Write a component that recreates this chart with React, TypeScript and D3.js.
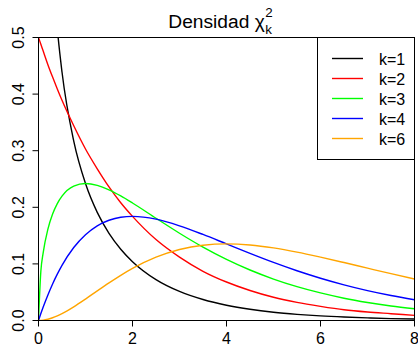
import React, {useEffect, useRef} from 'react';
import * as d3 from "d3";

const xs = [0, 0.05, 0.1, 0.2, 0.3, 0.4, 0.5, 0.75, 1, 1.25, 1.5, 1.75, 2, 2.5, 3, 3.5, 4, 4.5, 5, 5.5, 6, 6.5, 7, 7.5, 8];

const k1 = [null, null, null, null, 0.627, 0.516, 0.439, 0.317, 0.242, 0.191, 0.154, 0.126, 0.104, 0.0723, 0.0514, 0.0371, 0.027, 0.0198, 0.0146, 0.0109, 0.0081, 0.0061, 0.0046, 0.0034, 0.0026];
const k2 = [0.5, 0.488, 0.476, 0.452, 0.43, 0.409, 0.389, 0.344, 0.303, 0.268, 0.236, 0.208, 0.184, 0.143, 0.112, 0.087, 0.068, 0.053, 0.041, 0.032, 0.025, 0.019, 0.015, 0.012, 0.009];
const k3 = [0, 0.087, 0.12, 0.1614, 0.1881, 0.2066, 0.2197, 0.2375, 0.242, 0.2387, 0.2308, 0.22, 0.2076, 0.1807, 0.1542, 0.1297, 0.108, 0.0892, 0.0732, 0.0598, 0.0487, 0.0394, 0.0319, 0.0257, 0.0207];
const k4 = [0, 0.0122, 0.0238, 0.0452, 0.0646, 0.0819, 0.0974, 0.1289, 0.1516, 0.1673, 0.1771, 0.1824, 0.1839, 0.1791, 0.1673, 0.152, 0.1353, 0.1186, 0.1026, 0.0879, 0.0747, 0.063, 0.0528, 0.0441, 0.0366];
const k6 = [0, 0.0002, 0.0006, 0.0023, 0.0048, 0.0082, 0.0122, 0.0242, 0.0379, 0.0523, 0.0664, 0.0798, 0.092, 0.1119, 0.1255, 0.133, 0.1353, 0.1334, 0.1283, 0.1209, 0.112, 0.1024, 0.0925, 0.0827, 0.0733];

const seriesNames = ["k=1", "k=2", "k=3", "k=4", "k=6"];
const seriesValues = [k1, k2, k3, k4, k6];
const seriesColors = ["#000000", "#ff0000", "#00ff00", "#0000ff", "#ffa500"];

const xTicks = [0, 2, 4, 6, 8];
const yTicks = [0, 0.1, 0.2, 0.3, 0.4, 0.5];

export default function App() {
    const svgRef = useRef<SVGSVGElement>(null);

    useEffect(() => {
        const svg = d3.select(svgRef.current);
        svg.selectAll("*").remove();
        const font = "'Liberation Sans', Arial, sans-serif";

        const x = d3.scaleLinear().domain([0, 8]).range([38.5, 414.5]);
        const y = d3.scaleLinear().domain([0, 0.5]).range([320.5, 37.5]);

        svg.append("clipPath").attr("id", "plotclip")
            .append("rect")
            .attr("x", 38.5).attr("y", 37.5)
            .attr("width", 376).attr("height", 283);

        const line = d3.line<number | null>()
            .defined(d => d !== null)
            .x((d, i) => x(xs[i]))
            .y(d => y(d as number))
            .curve(d3.curveMonotoneX);

        svg.append("g")
            .attr("clip-path", "url(#plotclip)")
            .selectAll("path")
            .data(seriesValues)
            .join("path")
            .attr("d", d => line(d))
            .attr("fill", "none")
            .attr("stroke", (d, i) => seriesColors[i])
            .attr("stroke-width", 1.4);

        // box
        svg.append("rect")
            .attr("x", 38.5).attr("y", 37.5)
            .attr("width", 376).attr("height", 283)
            .attr("fill", "none").attr("stroke", "#000");

        // x axis
        const xg = svg.append("g");
        xg.selectAll("line").data(xTicks).join("line")
            .attr("x1", d => x(d)).attr("x2", d => x(d))
            .attr("y1", 320.5).attr("y2", 326.5)
            .attr("stroke", "#000");
        xg.selectAll("text").data(xTicks).join("text")
            .attr("x", d => x(d)).attr("y", 343.5)
            .attr("text-anchor", "middle")
            .attr("font-family", font).attr("font-size", 16)
            .text(d => d);

        // y axis
        const yg = svg.append("g");
        yg.selectAll("line").data(yTicks).join("line")
            .attr("x1", 32.5).attr("x2", 38.5)
            .attr("y1", d => y(d)).attr("y2", d => y(d))
            .attr("stroke", "#000");
        yg.selectAll("text").data(yTicks).join("text")
            .attr("transform", d => `translate(24,${y(d)}) rotate(-90)`)
            .attr("text-anchor", "middle")
            .attr("font-family", font).attr("font-size", 16)
            .text(d => d3.format(".1f")(d));

        // title: Densidad chi^2_k
        const title = svg.append("text")
            .attr("x", 168.3).attr("y", 27.5)
            .attr("font-family", font).attr("font-size", 19.2)
            .text("Densidad χ");
        const tEnd = 168.3 + (title.node() as SVGTextElement).getComputedTextLength() + 0.5;
        svg.append("text")
            .attr("x", tEnd).attr("y", 17)
            .attr("font-family", font).attr("font-size", 13.4)
            .text("2");
        svg.append("text")
            .attr("x", tEnd).attr("y", 34)
            .attr("font-family", font).attr("font-size", 13.4)
            .text("k");

        // legend
        const lg = svg.append("g");
        lg.append("rect")
            .attr("x", 317.5).attr("y", 37.5)
            .attr("width", 97).attr("height", 122)
            .attr("fill", "#fff").attr("stroke", "#000");
        const rows = lg.selectAll("g.row").data(seriesNames).join("g")
            .attr("class", "row")
            .attr("transform", (d, i) => `translate(0,${58.5 + i * 20})`);
        rows.append("line")
            .attr("x1", 332).attr("x2", 363)
            .attr("stroke", (d, i) => seriesColors[i])
            .attr("stroke-width", 1.4);
        rows.append("text")
            .attr("x", 379).attr("y", 6)
            .attr("font-family", font).attr("font-size", 16)
            .text(d => d);
    }, []);

    return (
        <svg ref={svgRef} width={418} height={347}
             style={{position: "absolute", left: 0, top: 0, background: "#fff"}}/>
    );
}
